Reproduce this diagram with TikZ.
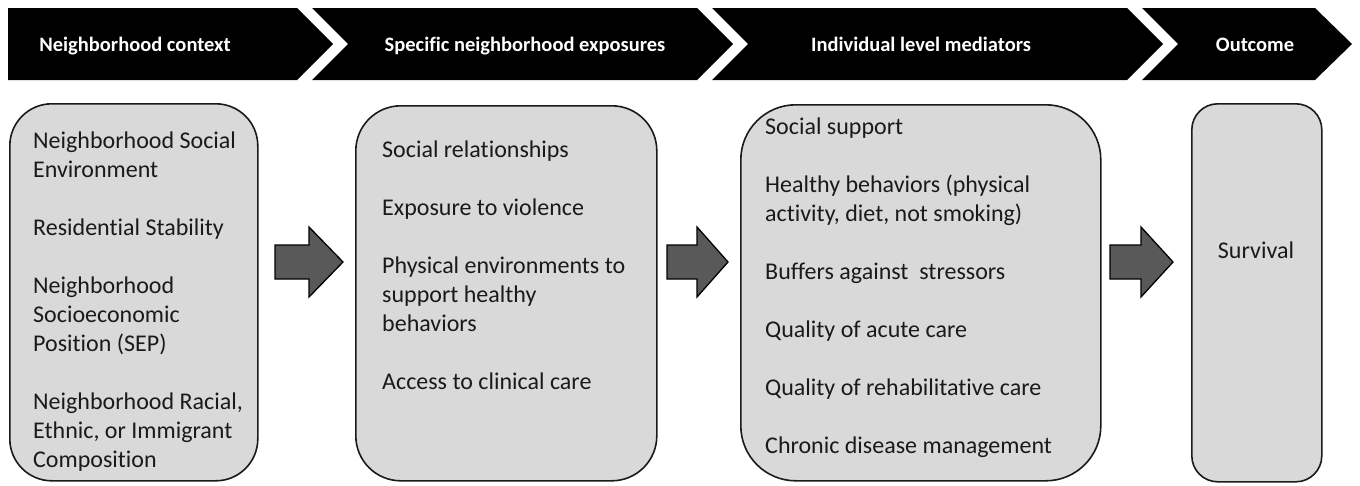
\documentclass[tikz,border=0pt]{standalone}
\usepackage{fontspec}
\setmainfont[Ligatures={NoCommon,NoContextual},RawFeature={-liga;-clig;-calt}]{Carlito}
\definecolor{panelgray}{HTML}{D9D9D9}
\definecolor{arrowgray}{HTML}{595959}
\definecolor{inkgray}{HTML}{1A1A1A}
\begin{document}
\begin{tikzpicture}[x=1pt,y=-1pt,
  chevron/.style={fill=black,draw=none},
  hdrtext/.style={text=white,inner sep=0pt,anchor=base,
    font=\fontsize{20.5}{25}\selectfont\bfseries},
  panel/.style={draw=inkgray,line width=1.6pt,fill=panelgray,
    inner sep=0pt,anchor=north west},
  bodytext/.style={text=inkgray,inner sep=0pt,anchor=base west,
    font=\fontsize{24}{29}\selectfont},
  blockarrow/.style={fill=arrowgray,draw=black,line width=1.3pt,line join=miter}]
\useasboundingbox (0,0) rectangle (1360,485);

% header band of chevrons
\draw[chevron] (8,8) -- (297,8) -- (333,44) -- (297,80) -- (8,80) -- cycle;
\draw[chevron] (312,8) -- (697,8) -- (733,44) -- (697,80) -- (312,80) -- (348,44) -- cycle;
\draw[chevron] (712,8) -- (1127,8) -- (1163,44) -- (1127,80) -- (712,80) -- (748,44) -- cycle;
\draw[chevron] (1142,8) -- (1315,8) -- (1352,44) -- (1315,80) -- (1142,80) -- (1178,44) -- cycle;

\node[hdrtext] (h1) at (135,51) {Neighborhood context};
\node[hdrtext] (h2) at (525,51) {Specific neighborhood exposures};
\node[hdrtext] (h3) at (921,51) {Individual level mediators};
\node[hdrtext] (h4) at (1255,51) {Outcome};

% rounded panels
\node[panel,rounded corners=42pt,minimum width=248pt,minimum height=377pt] (p1) at (9,103) {};
\node[panel,rounded corners=45pt,minimum width=301pt,minimum height=375pt] (p2) at (355,105) {};
\node[panel,rounded corners=55pt,minimum width=360pt,minimum height=376pt] (p3) at (740,104) {};
\node[panel,rounded corners=26pt,minimum width=130pt,minimum height=378pt] (p4) at (1191,103) {};

% panel texts
\node[bodytext] (t1) at (33,148) {\parbox[t]{260pt}{\raggedright
  Neighborhood Social\\ Environment\\[29pt]
  Residential Stability\\[29pt]
  Neighborhood\\ Socioeconomic\\ Position (SEP)\\[29pt]
  Neighborhood Racial,\\ Ethnic, or Immigrant\\ Composition}};
\node[bodytext] (t2) at (382,157) {\parbox[t]{300pt}{\raggedright
  Social relationships\\[29pt]
  Exposure to violence\\[29pt]
  Physical environments to\\ support healthy\\ behaviors\\[29pt]
  Access to clinical care}};
\node[bodytext] (t3) at (765,134) {\parbox[t]{340pt}{\raggedright
  Social support\\[29pt]
  Healthy behaviors (physical\\ activity, diet, not smoking)\\[29pt]
  Buffers against~ stressors\\[29pt]
  Quality of acute care\\[29pt]
  Quality of rehabilitative care\\[29pt]
  Chronic disease management}};
\node[bodytext,anchor=base] (t4) at (1256,258) {Survival};

% block arrows between panels
\draw[blockarrow] (275,245) -- (309,245) -- (309,227) -- (343,262)
  -- (309,297) -- (309,279) -- (275,279) -- cycle;
\draw[blockarrow] (667,245) -- (697,245) -- (697,227) -- (728,262)
  -- (697,297) -- (697,279) -- (667,279) -- cycle;
\draw[blockarrow] (1110,245) -- (1141,245) -- (1141,227) -- (1173,262)
  -- (1141,297) -- (1141,279) -- (1110,279) -- cycle;
\end{tikzpicture}
\end{document}
